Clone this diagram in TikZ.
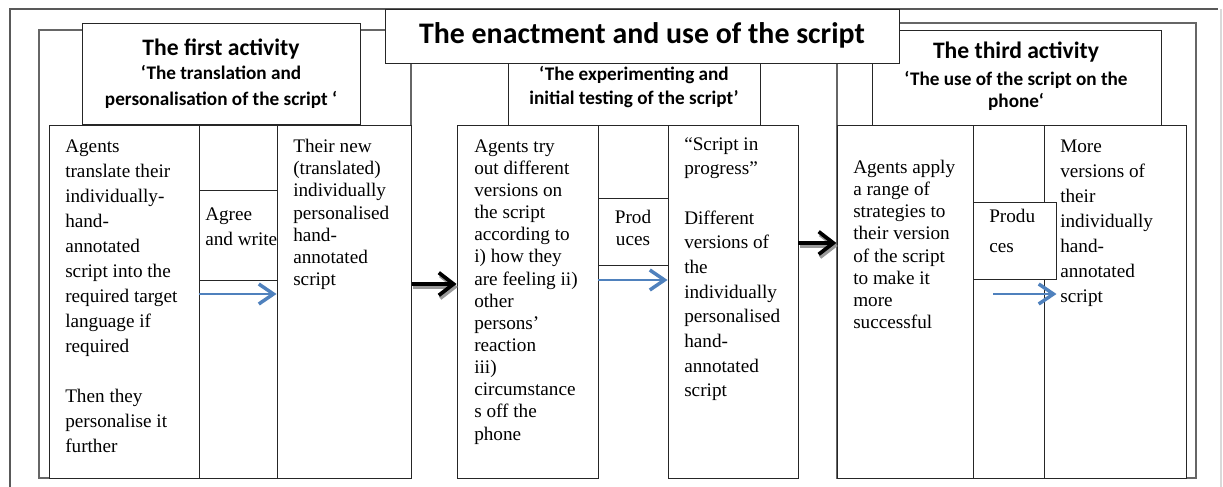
\documentclass[tikz,border=0pt]{standalone}
\usepackage{fontspec}
\setmainfont{Liberation Serif}
\newfontfamily\calibri{Carlito}
\usetikzlibrary{arrows.meta,fit}
\definecolor{flowblue}{HTML}{4F81BD}
\newcommand\txtsize[1]{\fontsize{14.4}{#1}\selectfont}
\newcommand\headsize[2]{\calibri\bfseries\fontsize{#1}{#2}\selectfont}

\begin{document}
\begin{tikzpicture}[x=0.75pt,y=-0.75pt,inner sep=0pt]

    \tikzstyle{frame}=[draw=black!60, line width=0.9pt, inner sep=0pt]
    \tikzstyle{box}=[draw=black!85, line width=0.7pt, fill=white, inner sep=0pt]
    \tikzstyle{txt}=[anchor=north west, align=left, inner sep=0pt]
    \tikzstyle{sub}=[anchor=north, align=center, inner sep=0pt]
    \tikzstyle{flow}=[draw=flowblue, line width=1.4pt, -{Straight Barb[length=11pt,width=15pt,line width=2.6pt]}]
    \tikzstyle{push}=[draw=black, line width=2.8pt, -{Straight Barb[length=11pt,width=17pt]}]
    \tikzstyle{pushshadow}=[draw=black!40, line width=2.8pt, -{Straight Barb[length=11pt,width=17pt]}, transform canvas={shift={(1pt,-2.2pt)}}]

    \fill[white] (0,0) rectangle (1223,486);
    \useasboundingbox (0,0) rectangle (1223,486);

    % outer frame
    \draw[black!65, line width=0.8pt] (10,490) -- (10,9) -- (1218,9);
    \draw[black!15, line width=0.8pt] (1221,9) -- (1221,490);

    % activity frames and headings
    \node[frame, fit={(39,30) (411,478)}]  (fA) {};
    \node[frame, fit={(837,23) (1196,478)}] (fC) {};
    \node[box, fit={(82,23) (360,124)}]   (hA) {};
    \node[box, fit={(508,50) (760,125)}]  (hB) {};
    \node[box, fit={(872,30) (1161,125)}] (hC) {};
    \node[box, fit={(385,9) (899,63)}]    (title) {};

    \node[anchor=base, font=\headsize{22.4}{27}] (titletext) at (642,43) {The enactment and use of the script};

    \node[anchor=base, font=\headsize{17.7}{21}] (hAtitle) at (221,55) {The first activity};
    \node[sub, font=\headsize{14.4}{19.5}] (hAsub) at (221,61.5)
        {\strut ‘The translation and\\ personalisation of the script ‘};
    \node[sub, font=\headsize{14.4}{18}] (hBsub) at (634,63.2)
        {\strut ‘The experimenting and\\ initial testing of the script’};
    \node[anchor=base, font=\headsize{17.7}{21}] (hCtitle) at (1016,58) {The third activity};
    \node[sub, font=\headsize{14.4}{16.5}] (hCsub) at (1016,69.6)
        {\strut ‘The use of the script on the\\ phone‘};

    % first activity
    \node[box, fit={(49,125) (199,478)}]  (a1) {};
    \node[box, fit={(199,125) (277,478)}] (a2) {};
    \node[box, fit={(199,190) (277,280)}] (a2w) {};
    \node[box, fit={(277,125) (411,478)}] (a3) {};

    \node[txt, font=\txtsize{18.75}] (a1text) at (65,134.5)
        {\strut Agents\\ translate their\\ individually-\\ hand-\\ annotated\\ script into the\\ required target\\ language if\\ required\\ ~\\ Then they\\ personalise it\\ further};
    \node[txt, font=\txtsize{18.75}] (a2text) at (205,202.5) {\strut Agree\\ and write};
    \node[txt, font=\txtsize{16.7}] (a3text) at (293,136.4)
        {\strut Their new\\ (translated)\\ individually\\ personalised\\ hand-\\ annotated\\ script};

    % second activity
    \node[box, fit={(457,125) (598,478)}] (b1) {};
    \node[box, fit={(598,125) (668,198)}] (b2) {};
    \node[box, fit={(598,198) (668,265)}] (b2w) {};
    \node[box, fit={(668,125) (798,478)}] (b3) {};

    \node[txt, font=\txtsize{16.6}] (b1text) at (474,136.5)
        {\strut Agents try\\ out different\\ versions on\\ the script\\ according to\\ i) how they\\ are feeling ii)\\ other\\ persons’\\ reaction\\ iii)\\ circumstance\\ s off the\\ phone};
    \node[sub, font=\txtsize{16.5}] (b2text) at (633,207.6) {\strut Prod\\ uces};
    \node[txt, font=\txtsize{18.5}] (b3text) at (684,132.7)
        {\strut “Script in\\ progress”\\ ~\\ Different\\ versions of\\ the\\ individually\\ personalised\\ hand-\\ annotated\\ script};

    % third activity
    \node[box, fit={(837,125) (973,478)}]   (c1) {};
    \node[box, fit={(973,125) (1044,478)}]  (c2) {};
    \node[box, fit={(1044,125) (1186,478)}] (c3) {};
    \node[box, fit={(973,202) (1056,279)}]  (c2w) {};

    \node[txt, font=\txtsize{16.65}] (c1text) at (853,157.5)
        {\strut Agents apply\\ a range of\\ strategies to\\ their version\\ of the script\\ to make it\\ more\\ successful};
    \node[txt, font=\txtsize{22.5}] (c2text) at (989,201) {\strut Produ\\ ces};
    \node[txt, font=\txtsize{18.75}] (c3text) at (1060,134.5)
        {\strut More\\ versions of\\ their\\ individually\\ hand-\\ annotated\\ script};

    % connectors
    \coordinate (c2s) at (993,294);
    \draw[flow] (a2.west |- 0,294) -- (a3.west |- 0,294);
    \draw[flow] (b2w.west |- 0,280) -- (b3.west |- 0,280);
    \draw[flow] (c2s) -- (c2w.east |- c2s);

    \draw[pushshadow] (fA.east |- 0,284) -- (b1.west |- 0,284);
    \draw[push] (fA.east |- 0,284) -- (b1.west |- 0,284);
    \draw[pushshadow] (b3.east |- 0,243) -- (fC.west |- 0,243);
    \draw[push] (b3.east |- 0,243) -- (fC.west |- 0,243);
\end{tikzpicture}
\end{document}
